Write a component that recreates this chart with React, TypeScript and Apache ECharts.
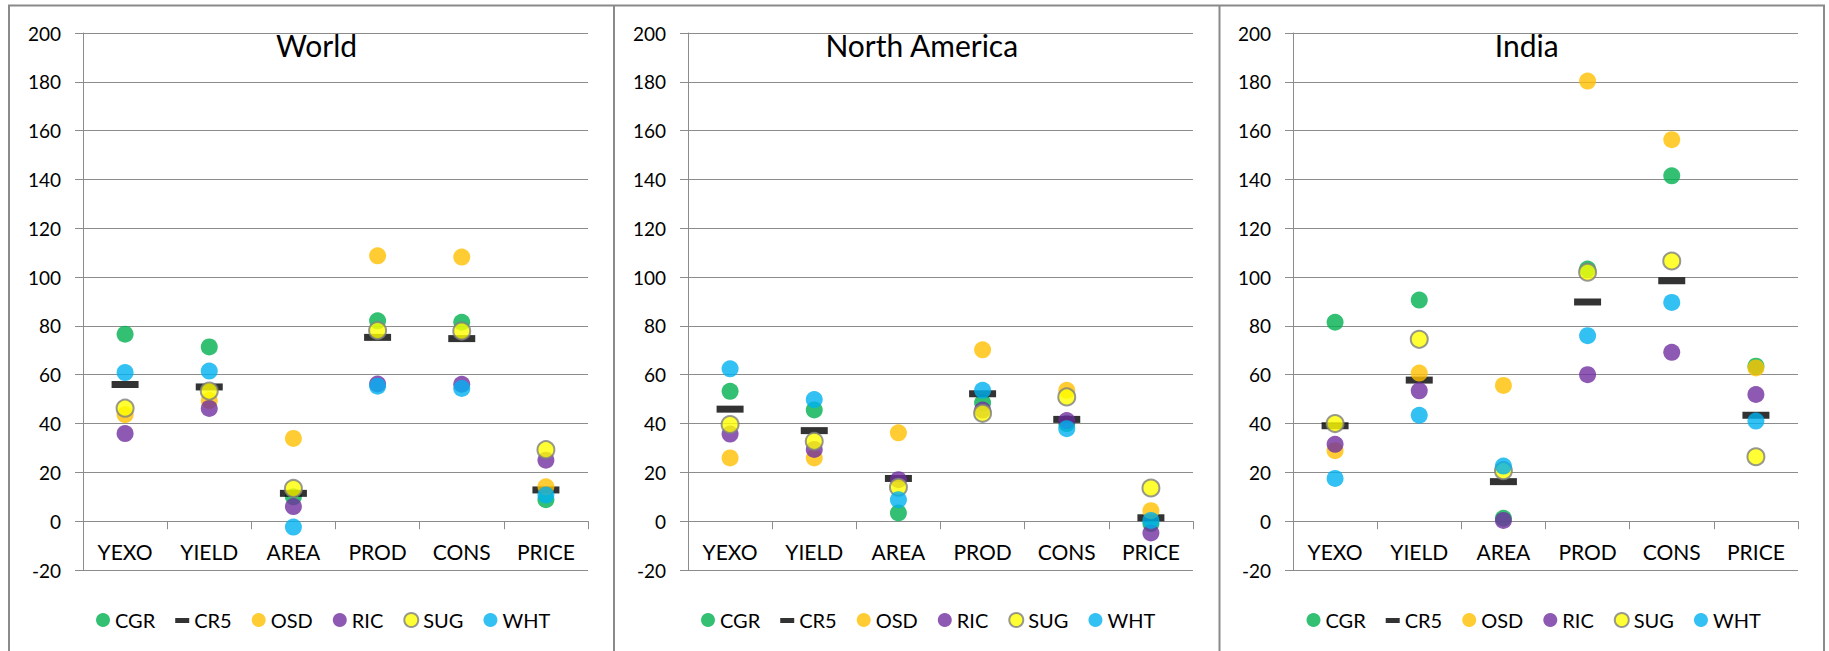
import React, { useEffect, useRef } from "react";
import * as echarts from "echarts";

// Axis categories and series names
const categories = ["YEXO", "YIELD", "AREA", "PROD", "CONS", "PRICE"];
const commodities = ["CGR", "CR5", "OSD", "RIC", "SUG", "WHT"];
const regions = ["World", "North America", "India"];
const yTicks = { min: -20, max: 200, step: 20 };

// World
const worldCGR = [76.6, 71.4, 10.0, 82.1, 81.5, 8.8];
const worldCR5 = [56.0, 55.0, 11.4, 75.3, 74.8, 12.8];
const worldOSD = [43.6, 49.4, 33.9, 108.7, 108.2, 14.1];
const worldRIC = [35.9, 46.2, 6.0, 56.2, 56.1, 25.0];
const worldSUG = [46.3, 53.3, 13.4, 78.1, 77.9, 29.3];
const worldWHT = [60.9, 61.5, -2.4, 55.3, 54.4, 10.7];

// North America
const naCGR = [53.2, 45.6, 3.4, 48.5, 40.0, -1.0];
const naCR5 = [45.9, 37.1, 17.5, 52.2, 41.7, 1.4];
const naOSD = [25.9, 25.9, 36.2, 70.2, 53.6, 4.3];
const naRIC = [35.7, 29.4, 17.0, 45.5, 41.2, -4.8];
const naSUG = [39.6, 32.7, 13.9, 44.2, 50.9, 13.6];
const naWHT = [62.4, 49.8, 8.8, 53.6, 37.9, 0.3];

// India
const indiaCGR = [81.5, 90.6, 1.2, 103.3, 141.5, 63.5];
const indiaCR5 = [39.1, 57.8, 16.2, 89.8, 98.5, 43.4];
const indiaOSD = [28.9, 60.7, 55.6, 180.3, 156.3, 62.8];
const indiaRIC = [31.5, 53.4, 0.3, 60.0, 69.2, 51.9];
const indiaSUG = [40.0, 74.5, 20.7, 102.0, 106.6, 26.4];
const indiaWHT = [17.5, 43.4, 22.6, 76.0, 89.6, 41.0];

const regionData = [
  [worldCGR, worldCR5, worldOSD, worldRIC, worldSUG, worldWHT],
  [naCGR, naCR5, naOSD, naRIC, naSUG, naWHT],
  [indiaCGR, indiaCR5, indiaOSD, indiaRIC, indiaSUG, indiaWHT],
];

const FONT = "Lato, 'Open Sans', sans-serif";
const GRID_LINE = "#8c8c8c";

const markerStyle: Record<string, any> = {
  CGR: { symbol: "circle", symbolSize: 17, itemStyle: { color: "#00B050" } },
  CR5: { symbol: "rect", symbolSize: [27, 7], itemStyle: { color: "#000000" } },
  OSD: { symbol: "circle", symbolSize: 17, itemStyle: { color: "#FFC000" } },
  RIC: { symbol: "circle", symbolSize: 17, itemStyle: { color: "#7030A0" } },
  SUG: {
    symbol: "circle",
    symbolSize: 17,
    itemStyle: { color: "#FFFF00", borderColor: "#7f7f7f", borderWidth: 2 },
  },
  WHT: { symbol: "circle", symbolSize: 17, itemStyle: { color: "#00B0F0" } },
};

// Thin dash for the CR5 legend entry, padded to a square box
const dashIcon = "path://M0,0L0,0M0,5L14,5L14,10L0,10ZM14,14L14,14";

const panelLeft = [9, 614, 1219.5];
const panelRight = 1824;
const gridLeft = [83, 688, 1293];
const gridWidth = 505;

export default function App() {
  const ref = useRef<HTMLDivElement>(null);

  useEffect(() => {
    if (!ref.current) return;
    const chart = echarts.init(ref.current, undefined, { renderer: "svg" });

    const grids = gridLeft.map((left) => ({
      left,
      width: gridWidth,
      top: 33,
      height: 537,
      containLabel: false,
    }));

    const xAxes = gridLeft.map((_, i) => ({
      type: "category",
      gridIndex: i,
      data: categories,
      boundaryGap: true,
      axisLine: { onZero: true, lineStyle: { color: GRID_LINE, width: 1 } },
      axisTick: {
        show: true,
        length: 8,
        interval: 0,
        alignWithLabel: false,
        lineStyle: { color: GRID_LINE },
      },
      axisLabel: {
        interval: 0,
        margin: -29,
        color: "#000",
        fontSize: 21,
        fontFamily: FONT,
      },
      splitLine: { show: false },
    }));

    const yAxes = gridLeft.map((_, i) => ({
      type: "value",
      gridIndex: i,
      min: yTicks.min,
      max: yTicks.max,
      interval: yTicks.step,
      axisLine: { show: true, lineStyle: { color: GRID_LINE, width: 1 } },
      axisTick: { show: true, length: 8, lineStyle: { color: GRID_LINE } },
      axisLabel: {
        margin: 22,
        color: "#000",
        fontSize: 19,
        fontFamily: FONT,
      },
      splitLine: { show: true, lineStyle: { color: GRID_LINE, width: 1 } },
    }));

    const series: any[] = [];
    regionData.forEach((sets, r) => {
      sets.forEach((values, c) => {
        const name = commodities[c];
        series.push({
          type: "scatter",
          name,
          xAxisIndex: r,
          yAxisIndex: r,
          data: values,
          ...markerStyle[name],
          emphasis: { disabled: true },
        });
      });
    });

    const titles = regions.map((text, i) => ({
      text,
      left: ((i < 2 ? panelLeft[i + 1] : panelRight) + panelLeft[i]) / 2,
      top: 25,
      textAlign: "center",
      textStyle: {
        fontFamily: FONT,
        fontSize: 30,
        fontWeight: "normal",
        color: "#000",
      },
    }));

    const legends = gridLeft.map((_, i) => ({
      left: panelLeft[i] + 82,
      top: 605,
      orient: "horizontal",
      itemWidth: 14,
      itemHeight: 14,
      itemGap: 20,
      selectedMode: false,
      textStyle: { fontFamily: FONT, fontSize: 20, color: "#000" },
      data: commodities.map((name) =>
        name === "CR5" ? { name, icon: dashIcon } : { name, icon: "circle" }
      ),
    }));

    chart.setOption({
      animation: false,
      backgroundColor: "#ffffff",
      title: titles,
      grid: grids,
      xAxis: xAxes,
      yAxis: yAxes,
      legend: legends,
      series,
      graphic: [
        {
          type: "rect",
          silent: true,
          shape: { x: 9, y: 5.5, width: panelRight - 9, height: 660 },
          style: { fill: "none", stroke: "#8a8a8a", lineWidth: 2 },
        },
        {
          type: "line",
          silent: true,
          shape: { x1: panelLeft[1], y1: 5.5, x2: panelLeft[1], y2: 660 },
          style: { stroke: "#8a8a8a", lineWidth: 2 },
        },
        {
          type: "line",
          silent: true,
          shape: { x1: panelLeft[2], y1: 5.5, x2: panelLeft[2], y2: 660 },
          style: { stroke: "#8a8a8a", lineWidth: 2 },
        },
      ],
    });

    return () => chart.dispose();
  }, []);

  return (
    <div
      ref={ref}
      style={{ position: "fixed", left: 0, top: 0, width: 1829, height: 651, background: "#fff" }}
    />
  );
}
